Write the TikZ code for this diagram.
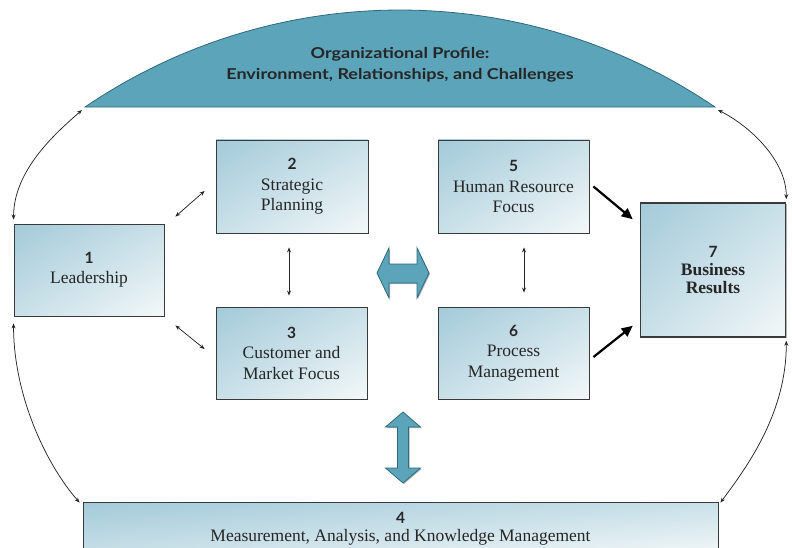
\documentclass[tikz,border=0pt]{standalone}
\usepackage{fontspec}
\setmainfont{Liberation Serif}
\newfontfamily\numfont{Lato}
\newfontfamily\headfont[FakeStretch=1.2]{Lato}
\usetikzlibrary{arrows.meta,shadows,shadings}

\definecolor{domefill}{HTML}{5BA4BA}
\definecolor{domeline}{HTML}{2E6A7C}
\definecolor{boxA}{HTML}{A3CAD9}
\definecolor{boxB}{HTML}{C9E0E8}
\definecolor{boxC}{HTML}{F3F8F9}
\definecolor{boxline}{HTML}{3A3A3A}
\definecolor{inktext}{HTML}{262626}

\tikzset{
  box/.style={draw=boxline, line width=0.9pt, shade,
    upper left=boxA, upper right=boxB, lower left=boxB, lower right=boxC,
    align=center, inner sep=0pt, text=inktext,
    font=\fontsize{17.5}{20.5}\selectfont,
    drop shadow={shadow xshift=1.2pt, shadow yshift=-1.2pt, opacity=0.3, fill=black}},
  dbl/.style={{Stealth[length=5pt,width=4pt]}-{Stealth[length=5pt,width=4pt]}, line width=0.75pt, draw=black!85},
  bold arrow/.style={-{Triangle[length=11pt,width=10pt]}, line width=2.2pt, draw=black},
  hollow/.style={fill=domefill, draw=domeline, line width=0.8pt, line join=miter,
    drop shadow={shadow xshift=1pt, shadow yshift=-1pt, opacity=0.3, fill=black}}
}
\newcommand{\nm}[1]{{\numfont\bfseries\fontsize{15.5}{20.5}\selectfont #1}}

\begin{document}
\begin{tikzpicture}[x=1pt,y=-1pt]
  \useasboundingbox (0,0) rectangle (792,548);
  \clip (0,0) rectangle (792,548);

  % organizational profile dome
  \draw[fill=domefill, draw=domeline, line width=0.8pt]
    plot[domain=-34.23:34.23, samples=80] ({400+560*sin(\x)}, {570-560*cos(\x)}) -- cycle;
  \coordinate (domeL) at (85,107);
  \coordinate (domeR) at (715,107);
  \node[font=\headfont\bfseries\fontsize{15}{21.5}\selectfont, align=center, text=inktext]
    (profile) at (400,65) {Organizational Profile:\\Environment, Relationships, and Challenges};

  % category boxes
  \node[box, minimum width=150pt, minimum height=92pt] (b1) at (89,270)
    {\nm{1}\\Leadership};
  \node[box, minimum width=152pt, minimum height=93pt] (b2) at (292,186.5)
    {\nm{2}\\Strategic\\Planning};
  \node[box, minimum width=151pt, minimum height=92pt] (b3) at (291.5,353)
    {\nm{3}\\Customer and\\Market Focus};
  \node[box, minimum width=151pt, minimum height=93pt] (b5) at (513.5,186.5)
    {\nm{5}\\Human Resource\\Focus};
  \node[box, minimum width=151pt, minimum height=92pt] (b6) at (513.5,353)
    {\nm{6}\\Process\\Management};
  \node[box, line width=1.6pt, minimum width=145pt, minimum height=134pt,
        font=\bfseries\fontsize{17.5}{18}\selectfont] (b7) at (713,270)
    {\nm{7}\\Business\\Results};
  \node[box, minimum width=635pt, minimum height=54pt] (b4) at (400.5,529)
    {\nm{4}\\[-3pt]Measurement, Analysis, and Knowledge Management};

  % links between the categories
  \draw[dbl] ([xshift=11pt,yshift=7pt]b1.north east) -- ([xshift=-11pt,yshift=-4.5pt]b2.west);
  \draw[dbl] ([xshift=11pt,yshift=-9pt]b1.south east) -- ([xshift=-11pt,yshift=4pt]b3.west);
  \draw[dbl] ([xshift=-3pt,yshift=-14pt]b2.south) -- ([xshift=-2.5pt,yshift=11pt]b3.north);
  \draw[dbl] ([xshift=10.5pt,yshift=-14pt]b5.south) -- ([xshift=10.5pt,yshift=14pt]b6.north);
  \draw[bold arrow] ([xshift=4pt,yshift=0pt]b5.east) -- ([xshift=-7pt,yshift=-17pt]b7.north west);
  \draw[bold arrow] ([xshift=4pt,yshift=-4pt]b6.east) -- ([xshift=-7pt,yshift=12pt]b7.south west);

  % outer loop
  \draw[dbl] ([yshift=4pt]b1.north west) .. controls +(0,-50) and +(-25,22) .. ([xshift=-3pt,yshift=-3pt]domeL);
  \draw[dbl] ([yshift=-7pt]b1.south west) .. controls +(0,70) and +(-35,-40) .. ([xshift=-3pt,yshift=-1pt]b4.north west);
  \draw[dbl] ([xshift=3pt,yshift=-3pt]domeR) .. controls +(30,15) and +(0,-40) .. ([yshift=3pt]b7.north east);
  \draw[dbl] ([yshift=-3pt]b7.south east) .. controls +(0,70) and +(30,-40) .. ([xshift=2pt,yshift=-1pt]b4.north east);

  % wide two-way arrows
  \draw[hollow] (377,273) -- (389,248) -- (389,264) -- (417,264) -- (417,248) -- (429,273)
    -- (417,298) -- (417,283) -- (389,283) -- (389,298) -- cycle;
  \draw[hollow] (403,412) -- (420.5,427) -- (408.5,427) -- (408.5,468) -- (420.5,468) -- (403,483)
    -- (385.5,468) -- (397.5,468) -- (397.5,427) -- (385.5,427) -- cycle;
\end{tikzpicture}
\end{document}
